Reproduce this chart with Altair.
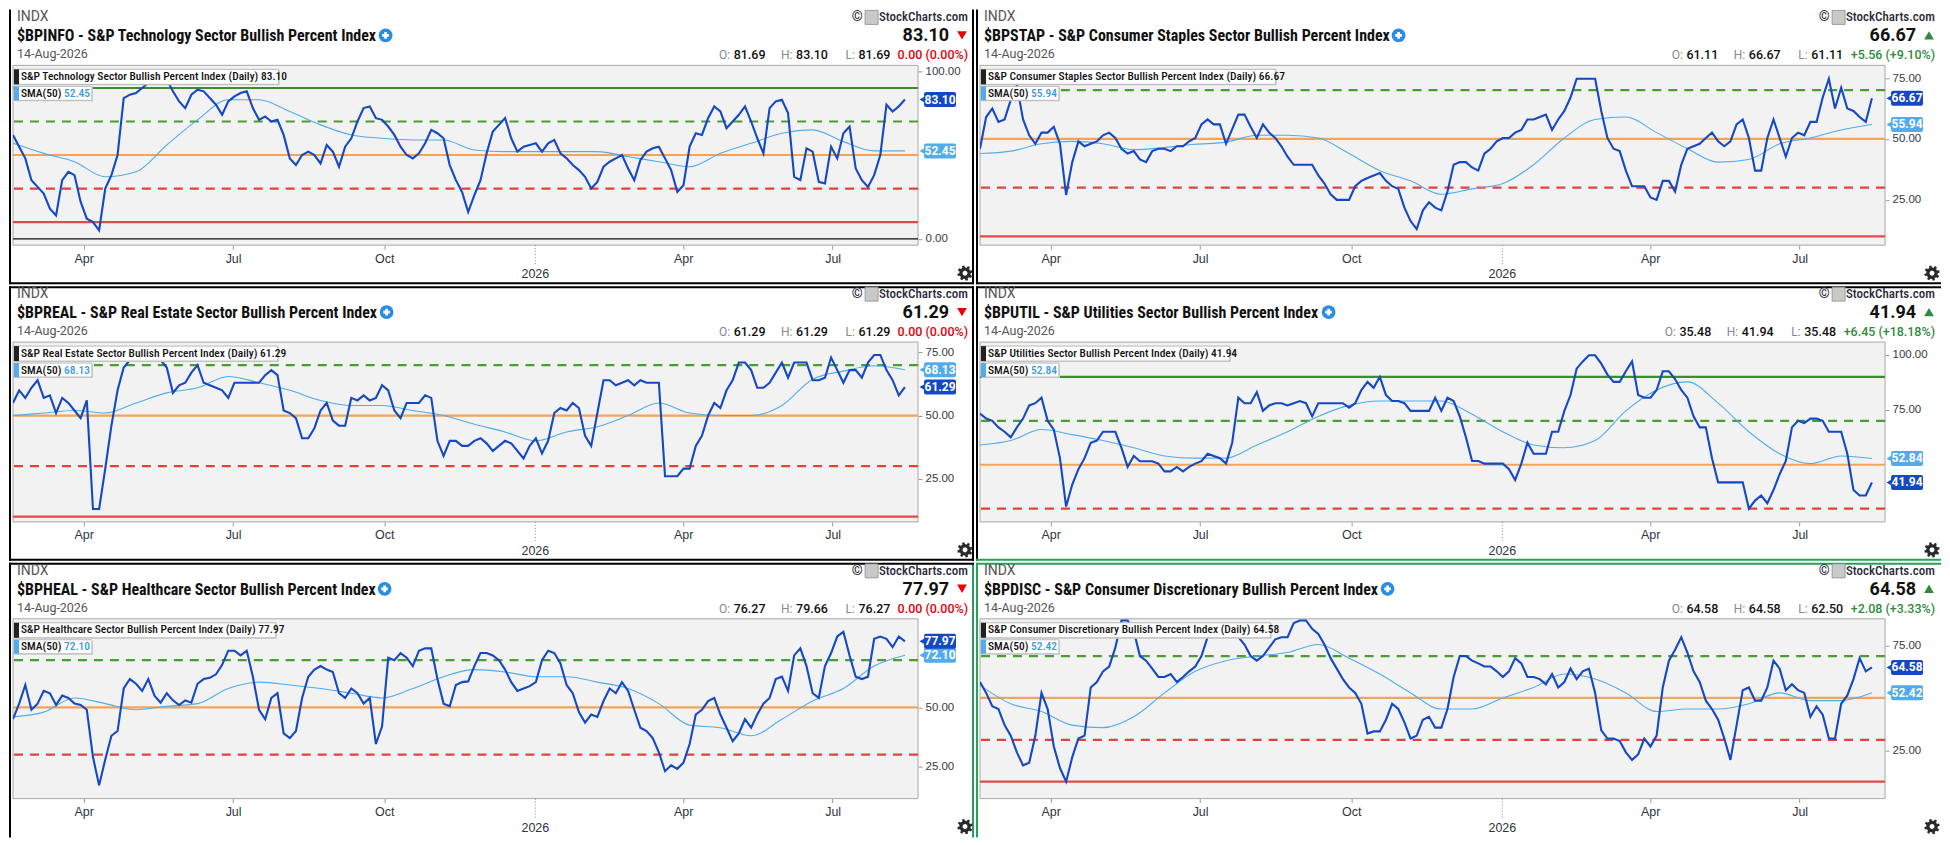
import math
import altair as alt
import pandas as pd

# ---------------- data ----------------
START, END = "2025-02-17", "2026-08-14"
N_PRICE, N_SMA = 146, 30

tech_price = [62, 55, 48, 35, 31, 27, 18, 14, 35, 40,
              38, 22, 12, 10, 5, 30, 38, 50, 84, 86,
              87, 90, 93, 96, 95, 95, 88, 82, 78, 86,
              89, 88, 84, 80, 74, 82, 85, 87, 88, 78,
              71, 73, 70, 71, 62, 48, 44, 50, 52, 50,
              45, 56, 52, 43, 55, 60, 70, 78, 79, 72,
              71, 67, 62, 55, 50, 48, 51, 57, 65, 63,
              60, 44, 35, 28, 16, 26, 35, 51, 64, 68,
              72, 60, 52, 55, 56, 57, 52, 57, 59, 51,
              48, 44, 41, 37, 30, 34, 43, 46, 48, 50,
              42, 35, 47, 52, 54, 55, 48, 41, 28, 32,
              55, 63, 62, 72, 79, 76, 66, 70, 74, 79,
              70, 60, 51, 78, 82, 83, 75, 37, 35, 54,
              52, 34, 33, 55, 48, 63, 67, 42, 35, 31,
              38, 50, 80, 76, 79, 83.10]
tech_sma = [57, 51, 46, 37, 40, 56, 71, 83, 83, 76, 68, 62, 60, 59, 59,
            53, 52, 52, 52, 52, 49, 46, 43, 51, 57, 63, 65, 58, 52.5, 52.45]

stap_price = [46, 59, 62.5, 57, 58, 66, 72, 58, 51.5, 48,
              52.6, 52.6, 55, 48, 27, 40.5, 49, 47, 48, 49,
              51.5, 52.6, 50.4, 46, 44, 45, 41.6, 40.5, 45, 46,
              46, 45, 47, 47, 49, 50.4, 56, 58, 56, 56,
              48, 54, 60, 60, 55, 50.4, 56, 52.6, 50.4, 47,
              42.7, 39.4, 39.4, 39.4, 39.4, 35, 31.7, 27.3, 25, 25,
              25, 30.6, 32.8, 34, 35, 36, 32.8, 30.6, 29.5, 21.8,
              16.3, 13, 20.7, 24, 21.8, 20.7, 28.4, 39.4, 40.5, 40.5,
              38.3, 37, 44, 46, 49, 50.4, 50.4, 52.6, 53.7, 58,
              58, 59, 60, 53.7, 58, 61.5, 67, 74.7, 74.7, 74.7,
              74.7, 61.5, 50.4, 46, 45, 37, 30.6, 30.6, 30.6, 26,
              25, 32.8, 32.8, 28.4, 39.4, 46, 47, 48, 50.4, 52.6,
              49, 47, 49, 56, 58, 50.4, 37, 37, 50.4, 58,
              50.4, 42.7, 50.4, 52.6, 51.5, 57, 57, 67, 74.7, 62.5,
              71, 62.5, 61.5, 59, 57, 66.67]
stap_sma = [44, 45, 48, 49, 48, 45.6, 46.5, 47.8, 48.7, 51.5, 51.5, 50.4, 44, 37, 32.8,
            27.3, 29.5, 31.7, 39.4, 50.4, 58, 59, 52.6, 46, 40.5, 41.6, 48, 50.4, 53.7, 55.94]

real_price = [55, 60, 57, 61, 64, 57, 58, 51, 57, 55,
              52, 49, 56, 13, 13, 29, 46, 60, 69, 72,
              75, 73, 76, 75, 72, 69, 59, 62, 63, 67,
              70, 63, 62, 61, 60, 57, 63, 63, 63, 63,
              63, 66, 68, 66, 52, 51, 49, 41, 41, 45,
              52, 55, 48, 46, 46, 57, 56, 58, 56, 57,
              62, 60, 52, 49, 55, 55, 55, 58, 57, 40,
              34, 40, 40, 38, 38, 40, 41, 39, 36, 38,
              40, 39, 36, 33, 38, 41, 35, 40, 51, 53,
              52, 55, 53, 42, 38, 51, 64, 64, 62, 63,
              64, 62, 64, 63, 63, 63, 26, 26, 26, 29,
              29, 38, 42, 50, 55, 53, 60, 64, 71, 71,
              68, 61, 61, 63, 67, 71, 65, 71, 71, 71,
              64, 64, 65, 73, 68, 63, 68, 68, 65, 71,
              74, 74, 68, 64, 58, 61.29]
real_sma = [50, 51, 52, 51, 55, 59, 61, 65.5, 63, 60, 56, 54, 54, 52, 50,
            46.6, 43.5, 40, 43.5, 45.6, 50, 55, 51, 50, 50, 54, 64.4, 67.6, 69.7, 68.13]

util_price = [73.3, 71, 70, 67, 65, 62.5, 67, 71, 77, 78,
              80.5, 70, 66, 53, 31, 41, 48, 53, 60, 61,
              65, 65, 65, 57.7, 49, 54, 51.6, 51.6, 51.6, 50.5,
              47, 47, 49, 47, 49, 50.5, 51.6, 55, 54, 53,
              50.5, 60, 80.5, 78, 78, 83, 74.5, 77, 78, 78,
              77, 78, 79, 78, 72, 78, 78, 78, 78, 78,
              76, 78, 84, 87.7, 85, 90, 81.7, 79, 79, 78,
              74.5, 74.5, 74.5, 74.5, 80.5, 74.5, 80.5, 79, 72, 62.5,
              51.7, 51.7, 50.5, 50.5, 50.5, 50.5, 48, 43, 50.5, 60,
              55, 55, 55, 65, 65, 74.5, 81.7, 93.7, 97, 99.8,
              99.8, 96, 91, 87.7, 87.7, 92.5, 97, 81.7, 80.5, 80.5,
              84, 92.5, 92.5, 89, 84, 80.5, 72, 67, 67, 53,
              42, 42, 42, 42, 42, 30, 33.7, 36, 32.5, 38.5,
              45.7, 51.7, 67, 70, 69, 71, 71, 70, 65, 65,
              65, 55, 38.5, 36, 36, 41.94]
util_sma = [59, 61, 66, 63.7, 61, 57.7, 54, 53, 53, 59, 65, 72, 77, 79, 79,
            79, 73, 65, 59, 57.7, 61, 74.5, 84, 87.7, 78, 65, 55, 50.5, 54, 52.84]

heal_price = [45, 51.6, 59.5, 49, 51.6, 57, 56, 51, 55, 54,
              51.6, 51, 49, 29, 17, 28, 38, 40, 58, 62,
              60, 57, 62, 55, 52, 56, 53, 51, 53, 52,
              60, 62, 62.5, 64, 68, 74, 74, 72, 74, 63,
              49, 45, 54, 56, 39, 37, 40, 54, 63, 66,
              67.5, 66, 65, 56, 54, 58, 56, 51.6, 54, 34.5,
              42, 71, 70, 73, 71, 67.5, 74, 75, 75, 62,
              51.6, 50.5, 59.5, 60.7, 61, 67.5, 73, 73, 72, 70,
              66, 60.7, 57, 58, 59, 60.7, 70, 74, 73, 68.6,
              59.5, 56, 48, 43.6, 47, 46, 52.7, 58, 56, 60.7,
              57, 49, 41.4, 40, 37, 31, 23, 25.5, 24, 26.6,
              34.5, 47, 49, 52.7, 54, 47, 41.4, 35.7, 39, 45,
              41.4, 47, 51.6, 54, 62, 63, 57, 72, 75, 67.5,
              56, 54, 67.5, 73, 80, 82, 72, 63, 62, 63,
              79, 80, 79, 75.5, 80, 77.97]
heal_sma = [46, 48, 54, 51.6, 49, 50.5, 51.6, 58, 60.7, 59.5, 58, 56, 54, 58, 63,
            66, 65, 63, 63, 60.7, 58, 51.6, 42.5, 41.4, 38, 45, 52.7, 58, 67.5, 72.10]

disc_price = [57.6, 52.4, 46, 44.7, 37, 32, 24, 17.8, 19, 32,
              52.4, 44.7, 26.8, 16.5, 10, 21.7, 30.6, 32, 55, 57.6,
              62.7, 65, 74, 87, 87, 82, 70, 67.8, 64, 60,
              60, 61.4, 57.6, 60, 62.7, 65, 70, 79, 84.5, 80.6,
              80.6, 84.5, 79, 75.5, 70, 67.8, 70, 74, 78, 79,
              79, 85.8, 87, 87, 83, 80.6, 75.5, 69, 64, 59,
              55, 52.4, 47.2, 33, 34, 34, 39.6, 47.2, 44.7, 38.3,
              30.6, 32, 39.6, 41, 35.8, 35.8, 44.7, 60, 70, 70,
              67.8, 66.5, 65, 65, 62.7, 60, 62.7, 69, 66.5, 60,
              60, 59, 56.5, 61.4, 55, 57.6, 64, 59, 62.7, 64,
              52.4, 34.5, 30.6, 30.6, 29.4, 24, 20.4, 23, 30.6, 26.8,
              32, 55, 67.8, 73, 79, 71.7, 62.7, 57.6, 48.7, 44.7,
              39.6, 30.6, 20.4, 37, 53.7, 55, 48.7, 48.7, 55, 67.8,
              64, 53.7, 56.5, 53.7, 52.4, 41, 46, 42, 30.6, 30.6,
              47.2, 51.2, 59, 69, 62.7, 64.58]
disc_sma = [56, 47.2, 43.5, 37, 35.8, 41, 52.4, 62.7, 67.8, 70, 71.7, 75.5, 69, 61.4, 52.4,
            44.7, 44.7, 50, 55, 61.4, 59, 52.4, 43.5, 44.7, 44.7, 47.2, 52.4, 48.7, 48.7, 52.42]

price_dates = pd.date_range(START, END, periods=N_PRICE)
sma_dates = pd.date_range(START, END, periods=N_SMA)

K, G = "#000000", "#27a05a"
PANELS = [
    dict(sym="$BPINFO", name="S&P Technology Sector Bullish Percent Index", price=tech_price, sma=tech_sma,
         last="83.10", smal="52.45", o="81.69", h="83.10", l="81.69", chg="0.00 (0.00%)", up=False,
         dom=[-3.8, 103.5], ticks=[0, 100], icon=373, box=266, edges=dict(left=K, right=K, bottom=K)),
    dict(sym="$BPSTAP", name="S&P Consumer Staples Sector Bullish Percent Index", price=stap_price, sma=stap_sma,
         last="66.67", smal="55.94", o="61.11", h="66.67", l="61.11", chg="+5.56 (+9.10%)", up=True,
         dom=[6.4, 80.2], ticks=[25, 50, 75], icon=419, box=296, edges=dict(left=K, bottom=K)),
    dict(sym="$BPREAL", name="S&P Real Estate Sector Bullish Percent Index", price=real_price, sma=real_sma,
         last="61.29", smal="68.13", o="61.29", h="61.29", l="61.29", chg="0.00 (0.00%)", up=False,
         dom=[7.9, 79.1], ticks=[25, 50, 75], icon=374, box=265, edges=dict(left=K, right=K, top=K, bottom=K)),
    dict(sym="$BPUTIL", name="S&P Utilities Sector Bullish Percent Index", price=util_price, sma=util_sma,
         last="41.94", smal="52.84", o="35.48", h="41.94", l="35.48", chg="+6.45 (+18.18%)", up=True,
         dom=[24.0, 105.8], ticks=[75, 100], icon=349, box=250, edges=dict(left=K, top=K, bottom=G)),
    dict(sym="$BPHEAL", name="S&P Healthcare Sector Bullish Percent Index", price=heal_price, sma=heal_sma,
         last="77.97", smal="72.10", o="76.27", h="79.66", l="76.27", chg="0.00 (0.00%)", up=False,
         dom=[11.4, 87.5], ticks=[25, 50], icon=372, box=263, edges=dict(left=K, top=K, right=G)),
    dict(sym="$BPDISC", name="S&P Consumer Discretionary Bullish Percent Index", price=disc_price, sma=disc_sma,
         last="64.58", smal="52.42", o="64.58", h="64.58", l="62.50", chg="+2.08 (+3.33%)", up=True,
         dom=[1.9, 87.8], ticks=[25, 75], icon=408, box=291, edges=dict(left=G, top=G)),
]

REF_LINES = [  # value, colour, dash
    (90, "#3d8c2e", None),
    (70, "#4d9a36", [9, 7]),
    (50, "#f2a458", None),
    (30, "#e2413f", [9, 7]),
    (10, "#e24a48", None),
    (0, "#111111", None),
]

# ---------------- layout constants ----------------
P_W, P_H = 966, 275          # whole panel incl. border
OX, OY = 4, 56               # plot origin inside panel
W, H = 906, 180              # plot area
R = 956                      # right edge for right-aligned header texts

COND = "Liberation Sans Narrow, Roboto Condensed, DejaVu Sans Condensed, Roboto"
SANS = "Roboto, Liberation Sans, sans-serif"
AXF = "Liberation Sans, Arial, sans-serif"
BLUE = "#1448c4"
LBLUE = "#52acec"

one = alt.Data(values=[{"k": 0}])

CW = {**{d: 0.562 for d in "0123456789"}, ".": 0.27, " ": 0.25, "(": 0.34, ")": 0.35,
      "%": 0.73, "+": 0.57, "-": 0.3, ":": 0.24}


def tw(s, size):
    return sum(CW.get(c, 0.6) for c in s) * size


def gear_path(teeth=8, ro=1.0, ri=0.74, rh=0.32):
    pts = []
    da = 2 * math.pi / teeth
    for i in range(teeth):
        a0 = i * da
        for f, r in ((0.0, ri), (0.38, ri), (0.5, ro), (0.88, ro)):
            a = a0 + f * da
            pts.append((r * math.cos(a), r * math.sin(a)))
    s = "M" + " L".join(f"{x:.3f},{y:.3f}" for x, y in pts) + " Z"
    hole = [(rh * math.cos(-2 * math.pi * k / 16), rh * math.sin(-2 * math.pi * k / 16)) for k in range(16)]
    s += " M" + " L".join(f"{x:.3f},{y:.3f}" for x, y in hole) + " Z"
    return s


GEAR = gear_path()


def txt(x, y, s, size=13, color="#222", weight="normal", align="left", font=SANS):
    return alt.Chart(one).mark_text(text=s, fontSize=size, color=color, fontWeight=weight,
                                    align=align, baseline="middle", font=font
                                    ).encode(x=alt.value(x), y=alt.value(y))


def box(x1, x2, y1, y2, fill, stroke=None, sw=1, radius=0):
    kw = dict(fill=fill, cornerRadius=radius)
    if stroke:
        kw.update(stroke=stroke, strokeWidth=sw)
    else:
        kw.update(strokeWidth=0)
    return alt.Chart(one).mark_rect(**kw).encode(
        x=alt.value(x1), x2=alt.value(x2), y=alt.value(y1), y2=alt.value(y2))


def panel(p):
    xs = alt.Scale(domain=[alt.DateTime(year=2025, month=2, date=17),
                           alt.DateTime(year=2026, month=8, date=22)], nice=False)
    ys = alt.Scale(domain=p["dom"], nice=False, zero=False)
    xaxis = alt.Axis(values=[alt.DateTime(year=2025, month=4, date=1), alt.DateTime(year=2025, month=7, date=1),
                             alt.DateTime(year=2025, month=10, date=1), alt.DateTime(year=2026, month=4, date=1),
                             alt.DateTime(year=2026, month=7, date=1)],
                     format="%b", title=None, domain=False, grid=False, tickSize=4, tickColor="#9a9a9a",
                     labelColor="#2d3440", labelFontSize=12.5, labelFont=AXF, labelPadding=3,
                     labelOverlap=False, labelFlush=False, zindex=1)
    yaxis = alt.Axis(orient="right", values=p["ticks"], format=".2f", title=None, domain=False, grid=False,
                     tickSize=4, tickColor="#9a9a9a", labelColor="#333a44", labelFontSize=11.5, labelFont=AXF,
                     labelPadding=3, zindex=1)

    def X(f):
        return alt.X(f, type="temporal", scale=xs, axis=xaxis)

    def Y(f):
        return alt.Y(f, type="quantitative", scale=ys, axis=yaxis)

    x0, x1, y0, y1 = -OX, P_W - OX, -OY, P_H - OY
    L = []
    # panel frame (white card) and its visible edges
    L.append(box(x0, x1, y0, y1, "white"))
    e = p["edges"]
    if "left" in e:
        L.append(box(x0, x0 + 2, y0, y1, e["left"]))
    if "right" in e:
        L.append(box(x1 - 2, x1, y0, y1, e["right"]))
    if "top" in e:
        L.append(box(x0, x1, y0, y0 + 2, e["top"]))
    if "bottom" in e:
        L.append(box(x0, x1, y1 - 2, y1, e["bottom"]))
    L.append(box(0, W, 0, H, "#f2f2f2", "#a8a8a8", 1))

    # horizontal reference levels
    for val, col, dash in REF_LINES:
        kw = dict(color=col, strokeWidth=1.2 if val == 0 else 2.2, clip=True)
        if dash:
            kw["strokeDash"] = dash
        L.append(alt.Chart(pd.DataFrame({"v": [val]})).mark_rule(**kw).encode(y=Y("v")))

    sma_df = pd.DataFrame({"date": sma_dates, "v": p["sma"]})
    price_df = pd.DataFrame({"date": price_dates, "v": p["price"]})
    L.append(alt.Chart(sma_df).mark_line(color=LBLUE, strokeWidth=1.1, clip=True, interpolate="monotone")
             .encode(x=X("date"), y=Y("v")))
    L.append(alt.Chart(price_df).mark_line(color=BLUE, strokeWidth=2.1, clip=True)
             .encode(x=X("date"), y=Y("v")))

    # Jan 2026 marker on the time axis
    jan = pd.DataFrame({"d": [pd.Timestamp("2026-01-01")]})
    L.append(alt.Chart(jan).mark_rule(color="#8a8a8a", strokeDash=[1, 2], strokeWidth=1)
             .encode(x=X("d"), y=alt.value(H), y2=alt.value(H + 21)))
    L.append(alt.Chart(jan).mark_text(text="2026", fontSize=12.5, font=AXF, color="#2d3440", baseline="middle")
             .encode(x=X("d"), y=alt.value(H + 29)))

    # legend boxes inside the plot
    L.append(box(2, p["box"] + 1, 5, 20, "#d0d0d0"))
    L.append(box(1, p["box"], 4, 19, "white", "#b9b9b9", 1))
    L.append(box(1, 6, 4, 19, "#222222"))
    L.append(txt(8, 11.7, f"{p['name']} (Daily) {p['last']}", 11.5, "#111", 500, font=COND))
    L.append(box(2, 80, 22, 36, "#d0d0d0"))
    L.append(box(1, 79, 21, 35, "white", "#b9b9b9", 1))
    L.append(box(1, 6, 21, 35, LBLUE))
    L.append(txt(8, 28.5, "SMA(50)", 11.5, "#111", 500, font=COND))
    L.append(txt(51, 28.5, p["smal"], 11.5, "#3a9be0", 500, font=COND))

    # last-value pills on the right axis
    for val, col in ((p["smal"], LBLUE), (p["last"], BLUE)):
        d = pd.DataFrame({"v": [float(val)]})
        L.append(alt.Chart(d).mark_rect(color=col, cornerRadius=2, yOffset=-7.5, y2Offset=7.5)
                 .encode(x=alt.value(W + 6), x2=alt.value(W + 38), y=Y("v"), y2=alt.Y2("v")))
        L.append(alt.Chart(d).mark_point(shape="triangle-left", filled=True, color=col, size=70, opacity=1)
                 .encode(x=alt.value(W + 5), y=Y("v")))
        L.append(alt.Chart(d).mark_text(text=val, color="white", fontSize=12, fontWeight="bold", font=SANS,
                                        baseline="middle", align="center")
                 .encode(x=alt.value(W + 22), y=Y("v")))

    # header, left side
    L.append(txt(4, -48, "INDX", 14, "#555555", "normal"))
    L.append(txt(4, -29, f"{p['sym']} - {p['name']}", 16, "#111111", "bold", font=COND))
    L.append(alt.Chart(one).mark_point(shape="circle", filled=True, color="#2b8ce6", size=190, opacity=1)
             .encode(x=alt.value(p["icon"]), y=alt.value(-30)))
    L.append(alt.Chart(one).mark_point(shape="cross", filled=True, color="white", size=45, opacity=1)
             .encode(x=alt.value(p["icon"]), y=alt.value(-30)))
    L.append(txt(4, -11, "14-Aug-2026", 12.5, "#555555", "normal"))

    # header, right side
    L.append(txt(R, -48, "StockCharts.com", 13, "#2a2a3a", 500, "right", COND))
    L.append(box(R - 103, R - 90, -55, -41, "#c9c9c9", "#8a8a8a", 0.8))
    L.append(txt(R - 111, -48, "©", 14, "#2a2a3a", "bold", "center"))
    L.append(txt(R - 19, -29, p["last"], 18, "#111111", "bold", "right"))
    tri_col = "#2e8b3e" if p["up"] else "#e8000b"
    L.append(alt.Chart(one).mark_point(shape="triangle-up" if p["up"] else "triangle-down", filled=True,
                                       color=tri_col, size=95, opacity=1)
             .encode(x=alt.value(R - 6), y=alt.value(-30)))

    # OHLC row, laid out from the right
    fs = 12.5
    chg_col = "#2e8b3e" if p["up"] else "#e8000b"
    xr = R
    L.append(txt(xr, -10, p["chg"], fs, chg_col, 500, "right"))
    xr -= tw(p["chg"], fs) + 8
    for lab, val in (("L:", p["l"]), ("H:", p["h"]), ("O:", p["o"])):
        L.append(txt(xr, -10, val, fs, "#111111", 500, "right"))
        xr -= tw(val, fs) + 4
        L.append(txt(xr, -10, lab, 12, "#888888", "normal", "right"))
        xr -= 14 + 13

    # settings gear
    L.append(alt.Chart(one).mark_point(shape=GEAR, filled=True, color="#2a2a2a", size=240, opacity=1)
             .encode(x=alt.value(W + 47), y=alt.value(H + 28)))

    return alt.layer(*L).properties(width=W, height=H)


rows = []
for i in range(0, 6, 2):
    rows.append(alt.hconcat(panel(PANELS[i]), panel(PANELS[i + 1]), spacing=0))

chart = alt.vconcat(*rows, spacing=0).properties(padding=0).configure_view(
    stroke="transparent").configure(font=SANS)

chart.save("out.html", embed_options={"renderer": "svg", "actions": False})
